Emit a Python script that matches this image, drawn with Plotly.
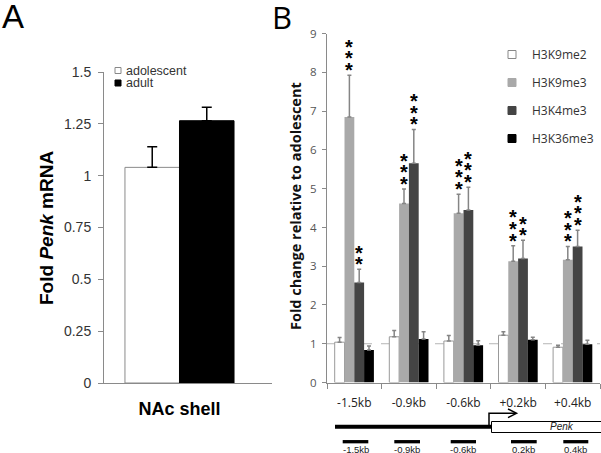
import plotly.graph_objects as go

# ---------------- data ----------------
region_A = ["NAc shell"]
groups_A = ["adolescent", "adult"]
penk_mean = [1.04, 1.265]
penk_err = [0.10, 0.065]

positions_B = ["-1.5kb", "-0.9kb", "-0.6kb", "+0.2kb", "+0.4kb"]
marks_B = ["H3K9me2", "H3K9me3", "H3K4me3", "H3K36me3"]
k9me2 = [1.04, 1.18, 1.07, 1.22, 0.91]
k9me2_err = [0.12, 0.16, 0.14, 0.09, 0.05]
k9me3 = [6.85, 4.62, 4.37, 3.13, 3.17]
k9me3_err = [1.08, 0.37, 0.49, 0.40, 0.34]
k4me3 = [2.58, 5.66, 4.45, 3.20, 3.51]
k4me3_err = [0.34, 0.87, 0.59, 0.47, 0.42]
k36me3 = [0.84, 1.12, 0.96, 1.10, 0.99]
k36me3_err = [0.10, 0.19, 0.12, 0.07, 0.10]
stars_k9me3 = [3, 3, 3, 3, 3]
stars_k4me3 = [2, 3, 3, 2, 3]
amplicon_labels = ["-1.5kb", "-0.9kb", "-0.6kb", "0.2kb", "0.4kb"]

# ---------------- geometry helpers ----------------
W, H = 601, 453
def px(x):
    return x / W
def py(y):
    return 1 - y / H

BARGAP = 0.282
A_dom = [px(104), px(272)]
B_dom = [px(327), px(600)]

fig = go.Figure()

# ---------------- Panel A ----------------
colors_A = ["#ffffff", "#000000"]
lines_A = ["#8a8a8a", "#000000"]
for i, g in enumerate(groups_A):
    fig.add_trace(go.Bar(
        x=region_A, y=[penk_mean[i]], name=g, showlegend=False,
        marker=dict(color=colors_A[i], line=dict(color=lines_A[i], width=1)),
        error_y=dict(type="data", symmetric=False, array=[penk_err[i]], arrayminus=[0],
                     color="#000000", thickness=1.5, width=5),
        xaxis="x", yaxis="y"))

# ---------------- Panel B ----------------
series_B = [k9me2, k9me3, k4me3, k36me3]
errs_B = [k9me2_err, k9me3_err, k4me3_err, k36me3_err]
fills_B = ["#ffffff", "#a9a9a9", "#444444", "#000000"]
edges_B = ["#999999", "#a9a9a9", "#444444", "#000000"]
for i, m in enumerate(marks_B):
    fig.add_trace(go.Bar(
        x=positions_B, y=series_B[i], name=m, legendgroup=m, showlegend=False,
        marker=dict(color=fills_B[i], line=dict(color=edges_B[i], width=1 if i == 0 else 0)),
        error_y=dict(type="data", symmetric=False, array=errs_B[i], arrayminus=[0] * len(positions_B),
                     color="#858585", thickness=1.5, width=2),
        xaxis="x2", yaxis="y2"))
    fig.add_trace(go.Scatter(
        x=[None], y=[None], mode="markers", name=m, legendgroup=m, showlegend=True,
        marker=dict(symbol="square", size=8, color=fills_B[i],
                    line=dict(color="#888888" if i == 0 else fills_B[i], width=1)),
        xaxis="x2", yaxis="y2"))

# significance stars
unit_px = (600 - 327) / len(positions_B)
bar_px = (1 - BARGAP) * unit_px / len(marks_B)
annotations = []
for si, (vals, errs, stars) in enumerate([(k9me3, k9me3_err, stars_k9me3), (k4me3, k4me3_err, stars_k4me3)]):
    series_index = 1 + si
    xoff = (series_index - 1.5) * bar_px
    for j, cat in enumerate(positions_B):
        for k in range(stars[j]):
            annotations.append(dict(
                x=cat, y=vals[j] + errs[j], xref="x2", yref="y2", text="*",
                showarrow=False, xshift=xoff, yshift=5 + 11.7 * k,
                xanchor="center", yanchor="middle",
                font=dict(family="Liberation Sans", size=20, color="#000000", weight="bold")))

# titles / labels
annotations += [
    dict(x=px(0), y=py(17), xref="paper", yref="paper", text="A", showarrow=False,
         xanchor="left", yanchor="middle", font=dict(family="Liberation Sans", size=33, color="#000")),
    dict(x=px(281.5), y=py(17), xref="paper", yref="paper", text="B", showarrow=False,
         xanchor="center", yanchor="middle", font=dict(family="Open Sans", size=31, color="#000")),
    dict(x=px(46), y=py(228), xref="paper", yref="paper", text="Fold <i>Penk</i> mRNA",
         showarrow=False, textangle=-90, xanchor="center", yanchor="middle",
         font=dict(family="Liberation Sans", size=19, color="#000", weight="bold")),
    dict(x=px(295), y=py(206), xref="paper", yref="paper", text="Fold change relative to adolescent",
         showarrow=False, textangle=-90, xanchor="center", yanchor="middle",
         font=dict(family="Open Sans", size=14.5, color="#111", weight="bold")),
    dict(x=px(123.5), y=py(70.5), xref="paper", yref="paper", text=groups_A[0], showarrow=False,
         xanchor="left", yanchor="middle", font=dict(family="Liberation Sans", size=12.5, color="#333")),
    dict(x=px(123.5), y=py(83), xref="paper", yref="paper", text=groups_A[1], showarrow=False,
         xanchor="left", yanchor="middle", font=dict(family="Liberation Sans", size=12.5, color="#333")),
    dict(x=px(561.7), y=py(426.7), xref="paper", yref="paper", text="<i>Penk</i>", showarrow=False,
         xanchor="center", yanchor="middle", font=dict(family="Liberation Sans", size=10, color="#222")),
]
amp_x = [(342.7, 368.3), (394.3, 420), (450.7, 476), (511, 536.7), (563.3, 588.3)]
for (a, b), lab in zip(amp_x, amplicon_labels):
    annotations.append(dict(x=px((a + b) / 2), y=py(442), xref="paper", yref="paper", text=lab,
                            showarrow=False, xanchor="center", yanchor="top",
                            font=dict(family="Liberation Sans", size=9.5, color="#222")))

shapes = [
    # reference line at fold change 1
    dict(type="line", xref="x2 domain", yref="y2", x0=0, x1=1, y0=1, y1=1,
         line=dict(color="#b5b5b5", width=1, dash="dash"), layer="below"),
    # legend swatches panel A
    dict(type="rect", xref="paper", yref="paper", x0=px(115), x1=px(121), y0=py(73.5), y1=py(67.5),
         line=dict(color="#888", width=1), fillcolor="#fff"),
    dict(type="rect", xref="paper", yref="paper", x0=px(115), x1=px(121), y0=py(86), y1=py(80),
         line=dict(color="#000", width=1), fillcolor="#000"),
    # gene diagram
    dict(type="line", xref="paper", yref="paper", x0=px(335), x1=px(491.5), y0=py(426.7), y1=py(426.7),
         line=dict(color="#000", width=4)),
    dict(type="rect", xref="paper", yref="paper", x0=px(491.5), x1=px(603), y0=py(432.5), y1=py(421.5),
         line=dict(color="#000", width=1), fillcolor="#fff"),
    dict(type="path", xref="paper", yref="paper",
         path=f"M {px(489)},{py(427)} L {px(489)},{py(413.3)} L {px(515)},{py(413.3)}",
         line=dict(color="#000", width=1.5)),
    dict(type="path", xref="paper", yref="paper",
         path=f"M {px(508)},{py(409)} L {px(516.5)},{py(413.3)} L {px(508)},{py(417.6)}",
         line=dict(color="#000", width=1.5)),
]
for a, b in amp_x:
    shapes.append(dict(type="line", xref="paper", yref="paper", x0=px(a), x1=px(b), y0=py(441.7), y1=py(441.7),
                       line=dict(color="#000", width=3.3)))

fig.update_layout(
    width=W, height=H, margin=dict(l=0, r=0, t=0, b=0, autoexpand=False),
    paper_bgcolor="white", plot_bgcolor="white",
    barmode="group", bargap=BARGAP, bargroupgap=0,
    legend=dict(x=px(492), xanchor="left", y=py(40), yanchor="top",
                font=dict(family="Open Sans", size=12, color="#333"),
                tracegroupgap=9, bgcolor="rgba(0,0,0,0)", traceorder="grouped"),
    xaxis=dict(domain=A_dom, type="category", range=[-0.497, 0.609], showline=True, linecolor="#8a8a8a",
               linewidth=1, ticks="", showgrid=False, zeroline=False, ticklabelstandoff=9,
               tickfont=dict(family="Liberation Sans", size=18, color="#000", weight="bold"),
               anchor="y"),
    yaxis=dict(domain=[py(383), py(72)], range=[0, 1.5], tick0=0, dtick=0.25, showline=True,
               linecolor="#8a8a8a", linewidth=1, ticks="outside", ticklen=5, tickcolor="#8a8a8a",
               showgrid=False, zeroline=False, ticklabelstandoff=4,
               tickfont=dict(family="Liberation Sans", size=14, color="#333"), anchor="x"),
    xaxis2=dict(domain=B_dom, type="category", showline=True, linecolor="#8a8a8a", linewidth=1,
                ticks="outside", tickson="boundaries", ticklen=5, tickcolor="#8a8a8a",
                showgrid=False, zeroline=False, ticklabelstandoff=9,
                tickfont=dict(family="Open Sans", size=12, color="#222"), anchor="y2"),
    yaxis2=dict(domain=[py(382.5), py(33.7)], range=[0, 9], dtick=1, showline=True, linecolor="#8a8a8a",
                linewidth=1, ticks="outside", ticklen=4, tickcolor="#8a8a8a", showgrid=False,
                zeroline=False, ticklabelstandoff=3,
                tickfont=dict(family="Open Sans", size=11.5, color="#555"), anchor="x2"),
    annotations=annotations, shapes=shapes,
)

fig.write_html("out.html", config={"displayModeBar": False},
               post_script="document.body.style.margin='0';document.body.style.padding='0';")
